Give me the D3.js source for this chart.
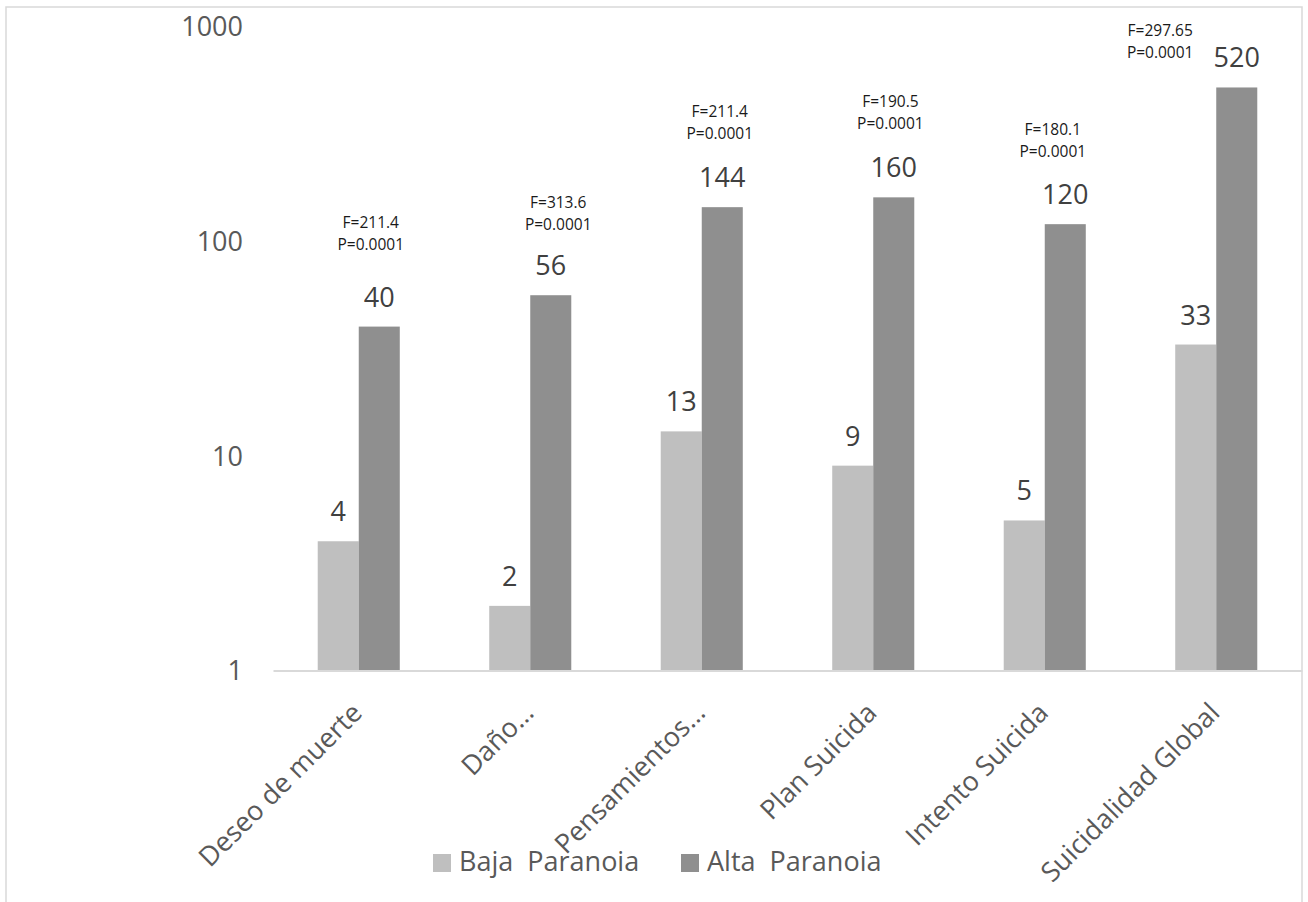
<!DOCTYPE html>
<html>
<head>
<meta charset="utf-8">
<script src="https://cdn.jsdelivr.net/npm/d3@7"></script>
<style>
  html, body { margin: 0; padding: 0; background: #fff; }
  svg { display: block; }
  text { white-space: pre; }
</style>
</head>
<body>
<svg id="chart" width="1308" height="902"></svg>
<script>
const categories = ["Deseo de muerte", "Daño…", "Pensamientos…", "Plan Suicida", "Intento Suicida", "Suicidalidad Global"];
const seriesNames = ["Baja  Paranoia", "Alta  Paranoia"];
const bajaValues = [4, 2, 13, 9, 5, 33];
const altaValues = [40, 56, 144, 160, 120, 520];
const yTicks = [1, 10, 100, 1000];
const annotF = ["F=211.4", "F=313.6", "F=211.4", "F=190.5", "F=180.1", "F=297.65"];
const annotP = ["P=0.0001", "P=0.0001", "P=0.0001", "P=0.0001", "P=0.0001", "P=0.0001"];
const annotLevel = [122, 152, 400, 445, 330, 960];
const annotShift = [0.07, 0.163, 0.105, 0.10, 0.047, -0.327];

const colors = ["#bfbfbf", "#8f8f8f"];
const svg = d3.select("#chart");

// outer frame
svg.append("rect").attr("x", 6).attr("y", 7).attr("width", 1296).attr("height", 920)
  .attr("fill", "none").attr("stroke", "#d9d9d9").attr("stroke-width", 1.5);

const x0 = d3.scaleBand().domain(categories).range([273, 1302]).padding(0);
const x1 = d3.scaleBand().domain(seriesNames).range([0, x0.bandwidth()]).paddingInner(0).paddingOuter(1.09);
const y = d3.scaleLog().domain([1, 1000]).range([670.5, 26.5]);

const rows = categories.map((c, i) => ({ cat: c, vals: [bajaValues[i], altaValues[i]] }));

// y tick labels
const yAxis = d3.axisLeft(y).tickValues(yTicks).tickFormat(d3.format("d")).tickSize(0).tickPadding(30);
const yg = svg.append("g").attr("transform", "translate(273,0)").call(yAxis);
yg.select(".domain").remove();
yg.selectAll("text").attr("font-family", "'Open Sans', sans-serif").attr("font-size", 27)
  .attr("fill", "#595959").attr("dy", "0.35em");

// bars
const groups = svg.append("g").selectAll("g").data(rows).join("g")
  .attr("transform", d => `translate(${x0(d.cat)},0)`);
groups.selectAll("rect").data(d => d.vals.map((v, k) => ({ v, k }))).join("rect")
  .attr("x", d => x1(seriesNames[d.k]))
  .attr("width", x1.bandwidth())
  .attr("y", d => y(d.v))
  .attr("height", d => y(1) - y(d.v))
  .attr("fill", d => colors[d.k]);

// data labels
groups.selectAll("text.lbl").data(d => d.vals.map((v, k) => ({ v, k }))).join("text")
  .attr("class", "lbl")
  .attr("x", d => x1(seriesNames[d.k]) + x1.bandwidth() / 2)
  .attr("y", d => y(d.v) - 20)
  .attr("text-anchor", "middle")
  .attr("font-family", "'Open Sans', sans-serif").attr("font-size", 27)
  .attr("fill", "#404040")
  .text(d => d.v);

// x axis line
const xAxis = d3.axisBottom(x0).tickSize(0).tickFormat("");
const xg = svg.append("g").attr("transform", `translate(0,${y(1)})`).call(xAxis);
xg.select(".domain").attr("stroke", "#d9d9d9").attr("stroke-width", 2);

// category labels rotated
svg.append("g").selectAll("text").data(categories).join("text")
  .attr("transform", d => `translate(${x0(d) + x0.bandwidth() / 2 + 5},${y(1) + 44}) rotate(-45)`)
  .attr("text-anchor", "end")
  .attr("font-family", "'Open Sans', sans-serif").attr("font-size", 27)
  .attr("fill", "#595959")
  .text(d => d);

// annotations
const ann = svg.append("g").selectAll("g").data(categories).join("g")
  .attr("transform", (d, i) => `translate(${x0(d) + x0.bandwidth() / 2 + annotShift[i] * x0.bandwidth()},${y(annotLevel[i])})`);
ann.append("text").attr("text-anchor", "middle").attr("dy", "0.35em")
  .attr("font-family", "'Open Sans', sans-serif").attr("font-size", 15.5).attr("fill", "#1a1a1a")
  .text((d, i) => annotF[i]);
ann.append("text").attr("text-anchor", "middle").attr("dy", "0.35em").attr("y", 22)
  .attr("font-family", "'Open Sans', sans-serif").attr("font-size", 15.5).attr("fill", "#1a1a1a")
  .text((d, i) => annotP[i]);

// legend
const legendX = [433, 681];
const leg = svg.append("g").selectAll("g").data(seriesNames).join("g")
  .attr("transform", (d, i) => `translate(${legendX[i]},854)`);
leg.append("rect").attr("width", 18).attr("height", 18).attr("fill", (d, i) => colors[i]);
leg.append("text").attr("x", 26).attr("y", 17)
  .attr("font-family", "'Open Sans', sans-serif").attr("font-size", 27).attr("fill", "#595959")
  .attr("xml:space", "preserve")
  .text(d => d);
</script>
</body>
</html>
